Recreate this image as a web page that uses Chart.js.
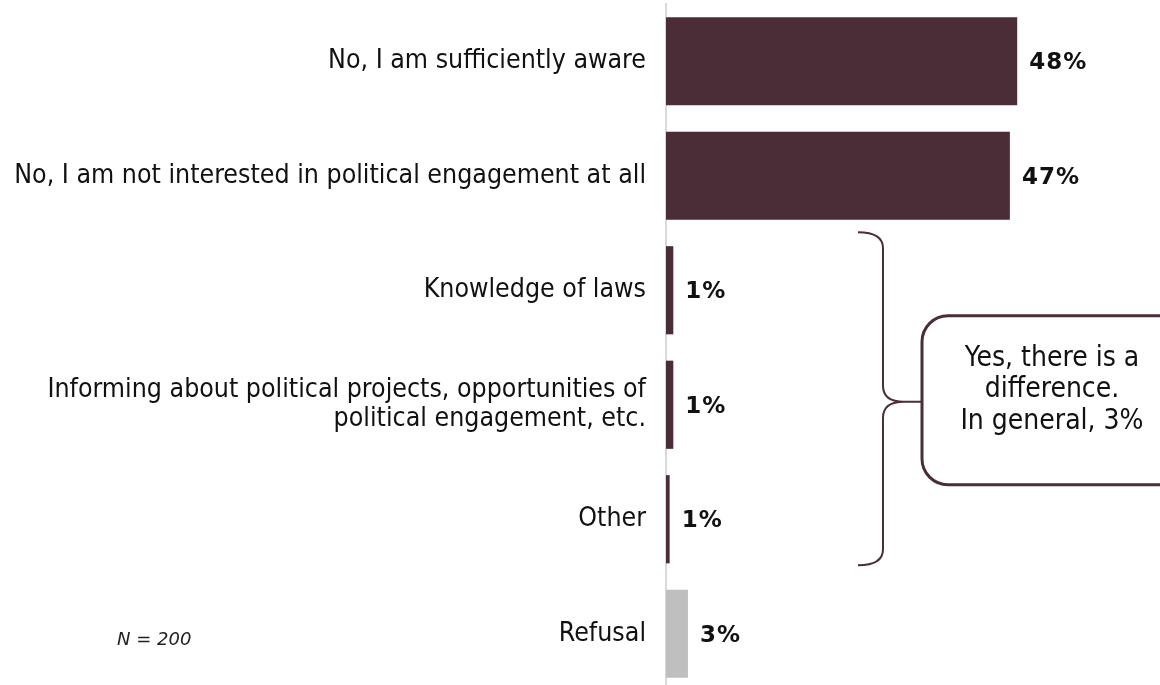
<!DOCTYPE html>
<html><head><meta charset="utf-8">
<script src="https://cdn.jsdelivr.net/npm/chart.js@4"></script>
<style>
html,body{margin:0;padding:0;overflow:hidden;background:#fff;width:1160px;height:685px}
#wrap{width:1160px;height:691px;position:relative}
</style>
</head><body><div id="wrap"><canvas id="c"></canvas></div>
<script>
const categories = [
  "No, I am sufficiently aware",
  "No, I am not interested in political engagement at all",
  "Knowledge of laws",
  ["Informing about political projects, opportunities of", "political engagement, etc."],
  "Other",
  "Refusal"
];
const values = [48, 47, 1, 1, 0.5, 3];
const calloutLines = ["Yes, there is a", "difference.", "In general, 3%"];
const sampleNote = "N = 200";

const MAROON = "#4a2d37";
const GREY = "#bfbfbf";
const LABEL_FONT = '"DejaVu Sans Condensed", "DejaVu Sans", sans-serif';

const decor = {
  id: "decor",
  afterDatasetsDraw(chart) {
    const ctx = chart.ctx;
    const meta = chart.getDatasetMeta(0);
    ctx.save();
    // value labels
    ctx.font = 'bold 23px "DejaVu Sans", sans-serif';
    ctx.letterSpacing = "1px";
    ctx.fillStyle = "#111";
    ctx.textAlign = "left";
    ctx.textBaseline = "middle";
    meta.data.forEach((bar, i) => {
      ctx.fillText(Math.round(values[i]) + "%", bar.x + 12, bar.y + 2);
    });
    ctx.letterSpacing = "0px";
    // brace over the three "yes" answers
    const b2 = meta.data[2], b4 = meta.data[4];
    const top = b2.y - b2.height / 2 - 14;
    const bottom = b4.y + b4.height / 2 + 2;
    const mid = (top + bottom) / 2 + 3;
    const x0 = 858, xv = 883, xt = 904, r = 16;
    ctx.strokeStyle = MAROON;
    ctx.lineWidth = 2;
    ctx.beginPath();
    ctx.moveTo(x0, top);
    ctx.quadraticCurveTo(xv, top, xv, top + r);
    ctx.lineTo(xv, mid - r);
    ctx.quadraticCurveTo(xv, mid, xt, mid);
    ctx.quadraticCurveTo(xv, mid, xv, mid + r);
    ctx.lineTo(xv, bottom - r);
    ctx.quadraticCurveTo(xv, bottom, x0, bottom);
    ctx.moveTo(xt, mid);
    ctx.lineTo(922, mid);
    ctx.stroke();
    // callout box
    ctx.lineWidth = 3;
    ctx.beginPath();
    ctx.roundRect(922, mid - 86, 280, 169, 26);
    ctx.stroke();
    ctx.font = '28px ' + LABEL_FONT;
    ctx.fillStyle = "#111";
    ctx.textAlign = "center";
    ctx.textBaseline = "alphabetic";
    calloutLines.forEach((t, i) => ctx.fillText(t, 1052, mid - 36 + i * 31.5));
    // sample size note
    ctx.font = 'italic 18px "DejaVu Sans", sans-serif';
    ctx.textAlign = "left";
    ctx.textBaseline = "middle";
    ctx.fillStyle = "#222";
    ctx.fillText(sampleNote, 117, 640);
    ctx.restore();
  }
};

new Chart(document.getElementById("c"), {
  type: "bar",
  data: {
    labels: categories,
    datasets: [{
      data: values,
      backgroundColor: (c) => c.dataIndex === values.length - 1 ? GREY : MAROON,
      borderWidth: 0,
      barPercentage: 0.77,
      categoryPercentage: 1
    }]
  },
  options: {
    indexAxis: "y",
    responsive: true,
    maintainAspectRatio: false,
    animation: false,
    layout: { padding: { top: 4, right: 55, left: 0, bottom: 0 } },
    plugins: { legend: { display: false }, tooltip: { enabled: false } },
    scales: {
      x: { min: 0, max: 60, display: false },
      y: {
        grid: { display: false, drawTicks: false },
        border: { display: true, color: "#d9d9d9", width: 2 },
        ticks: { color: "#111", padding: 20, font: { family: LABEL_FONT, size: 26.5, lineHeight: 1.07 } },
        afterFit(scale) { scale.width = 666; scale.paddingTop = 0; scale.paddingBottom = 0; }
      }
    }
  },
  plugins: [decor]
});
</script>
</body></html>
